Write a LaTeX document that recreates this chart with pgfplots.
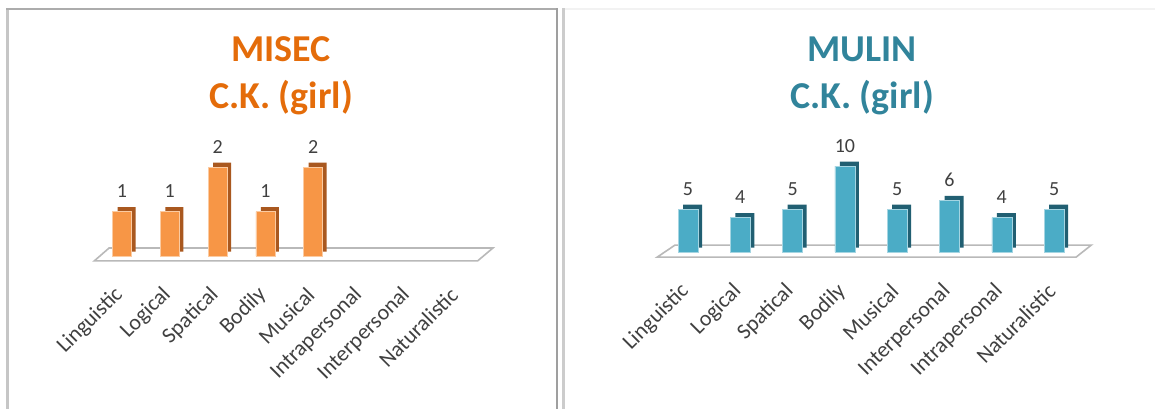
\documentclass[border=0pt]{standalone}
\usepackage{pgfplots}
\pgfplotsset{compat=1.18}
\usepackage{fontspec}
\setmainfont{Carlito}
\definecolor{orfront}{HTML}{F79646}
\definecolor{orside}{HTML}{A9581F}
\definecolor{ortitle}{HTML}{E46C0A}
\definecolor{tlfront}{HTML}{4BACC6}
\definecolor{tlside}{HTML}{215F72}
\definecolor{tltitle}{HTML}{31849B}
\definecolor{lbl}{HTML}{404040}
\pgfplotsset{
  panel/.style={
    anchor=origin,
    axis line style={draw=none},
    major tick length=0pt,
    ytick=\empty,
    xtick={0,...,7},
    clip=false,
    xticklabel style={rotate=45, anchor=east, font=\fontsize{22}{22}\selectfont, text=lbl, xshift=0pt},
    /pgf/number format/assume math mode=true,
  },
  lbls/.style={nodes near coords, every node near coord/.append style={font=\fontsize{20}{20}\selectfont, text=lbl, yshift=10pt}},
}
\begin{document}
\begin{tikzpicture}
\path[use as bounding box] (0,0) rectangle (1155pt,408pt);
% panel frames
\draw[gray!45, line width=3pt] (7.5pt,-2pt) -- (7.5pt,399pt);
\draw[gray!65, line width=2.5pt] (6pt,399pt) -- (557pt,399pt);
\draw[gray!75, line width=2pt] (557pt,-2pt) -- (557pt,400pt);
\draw[gray!40, line width=3pt] (563pt,-2pt) -- (563pt,400pt);
\draw[gray!10, line width=2pt] (565pt,399pt) -- (1155pt,399pt);
% titles
\node[anchor=base, font=\bfseries\fontsize{38}{44}\selectfont, text=ortitle] at (281pt,346pt) {MISEC};
\node[anchor=base, font=\bfseries\fontsize{38}{44}\selectfont, text=ortitle] at (281pt,300pt) {C.K. (girl)};
\node[anchor=base, font=\bfseries\fontsize{38}{44}\selectfont, text=tltitle] at (862pt,346pt) {MULIN};
\node[anchor=base, font=\bfseries\fontsize{38}{44}\selectfont, text=tltitle] at (862pt,300pt) {C.K. (girl)};
% left chart
\begin{axis}[panel, at={(122pt,152pt)}, x=47.8pt, y=44.5pt,
  xmin=-0.7, xmax=7.9, ymin=-0.74, ymax=2.6,
  xticklabels={Linguistic,Logical,Spatical,Bodily,Musical,Intrapersonal,Interpersonal,Naturalistic}]
\addplot[fill=white, draw=gray!55, line width=1.6pt] coordinates {(-0.58,-0.11) (7.44,-0.11) (7.76,0.18) (-0.27,0.18)} -- cycle;
\addplot[ybar, bar width=18pt, bar shift=4.5pt, yshift=4.5pt, fill=orside, draw=none] coordinates {(0,1) (1,1) (2,2) (3,1) (4,2)};
\addplot[ybar, bar width=19pt, bar shift=0pt, fill=orfront, draw=orfront!50!white, line width=0.6pt, lbls] coordinates {(0,1) (1,1) (2,2) (3,1) (4,2)};
\end{axis}
% right chart
\begin{axis}[panel, at={(688pt,156pt)}, x=52.3pt, y=8.6pt,
  xmin=-0.7, xmax=7.9, ymin=-3.9, ymax=12,
  xticklabels={Linguistic,Logical,Spatical,Bodily,Musical,Interpersonal,Intrapersonal,Naturalistic}]
\addplot[fill=white, draw=gray!55, line width=1.6pt] coordinates {(-0.59,-0.6) (7.42,-0.6) (7.71,0.8) (-0.25,0.8)} -- cycle;
\addplot[ybar, bar width=19pt, bar shift=4.5pt, yshift=4.5pt, fill=tlside, draw=none] coordinates {(0,5) (1,4) (2,5) (3,10) (4,5) (5,6) (6,4) (7,5)};
\addplot[ybar, bar width=20pt, bar shift=0pt, fill=tlfront, draw=tlfront!50!white, line width=0.6pt, lbls] coordinates {(0,5) (1,4) (2,5) (3,10) (4,5) (5,6) (6,4) (7,5)};
\end{axis}
\end{tikzpicture}
\end{document}
